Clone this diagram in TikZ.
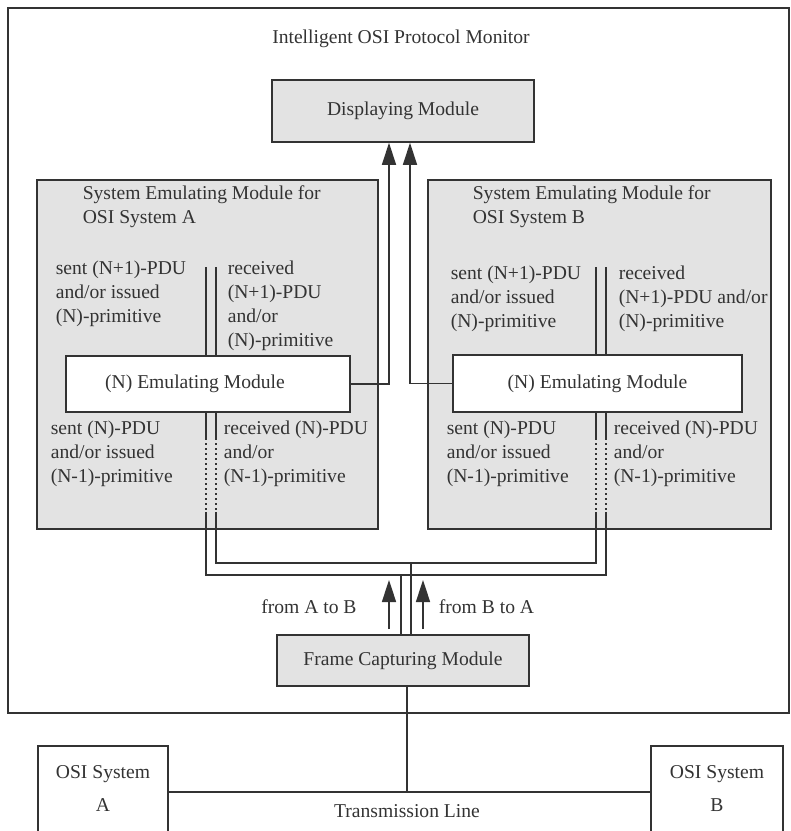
\documentclass[tikz,border=0pt]{standalone}
\usepackage{fontspec}
\setmainfont{Liberation Serif}
\usetikzlibrary{positioning, arrows.meta}

\begin{document}
\begin{tikzpicture}[
        x=0.5pt, y=-0.5pt,
        >={Triangle[length=11pt, width=7pt]},
        line width=0.8pt,
        color=black!80,
        font=\fontsize{9.8}{12}\selectfont,
        module/.style={draw, fill=#1, inner sep=0pt, align=center},
        module/.default=black!11,
        note/.style={anchor=north west, inner sep=0pt, align=left},
        flow/.style={->},
        tap/.style={dash pattern=on 1pt off 1.5pt, line width=1pt}
    ]
        \useasboundingbox (0,0) rectangle (791,831);
        \clip (0,0) rectangle (791,831);

        % monitor and its modules
        \node[module=white, minimum width=390.5pt, minimum height=352.5pt] (monitor) at (398.5,360.5) {};
        \node (title) at (401,39) {Intelligent OSI Protocol Monitor};
        \node[module, minimum width=131pt, minimum height=31pt] (display) at (403,111) {Displaying Module};
        \node[module, minimum width=170.5pt, minimum height=174.5pt] (semA) at (207.5,354.5) {};
        \node[module, minimum width=171.5pt, minimum height=174.5pt] (semB) at (599.5,354.5) {};
        \node[module, minimum width=126pt, minimum height=25.5pt] (fcm) at (403,660.5) {Frame Capturing Module};

        \node[note] (titleA) at (82,184.6) {System Emulating Module for\\OSI System A};
        \node[note] (titleB) at (472,184.6) {System Emulating Module for\\OSI System B};
        \node[note] (sentA1) at (55,260) {sent (N+1)-PDU\\and/or issued\\(N)-primitive};
        \node[note] (recvA1) at (227,260) {received\\(N+1)-PDU\\and/or\\(N)-primitive};
        \node[note] (sentB1) at (450,265) {sent (N+1)-PDU\\and/or issued\\(N)-primitive};
        \node[note] (recvB1) at (618,265) {received\\(N+1)-PDU and/or\\(N)-primitive};
        \node[note] (sentA0) at (50,420) {sent (N)-PDU\\and/or issued\\(N-1)-primitive};
        \node[note] (recvA0) at (223,420) {received (N)-PDU\\and/or\\(N-1)-primitive};
        \node[note] (sentB0) at (446,420) {sent (N)-PDU\\and/or issued\\(N-1)-primitive};
        \node[note] (recvB0) at (613,420) {received (N)-PDU\\and/or\\(N-1)-primitive};

        % service access lines
        \foreach \n/\x in {Al/206, Ar/216, Bl/596, Br/606} {
            \coordinate (up\n) at (\x,267);
            \coordinate (dot\n) at (\x,438);
            \coordinate (bot\n) at (\x,512);
        }
        \coordinate (loopOut) at (401,575);
        \coordinate (loopIn) at (411,563);

        \node[module=white, minimum width=142pt, minimum height=28pt] (nemA) at (208,384) {\hspace*{-13pt}(N) Emulating Module};
        \node[module=white, minimum width=144.5pt, minimum height=28.5pt] (nemB) at (597.5,383.5) {(N) Emulating Module};

        \foreach \n/\m in {Al/A, Ar/A, Bl/B, Br/B} {
            \draw (up\n) -- (up\n |- nem\m.north);
            \draw (nem\m.south -| dot\n) -- (dot\n);
            \draw[tap] (dot\n) -- (bot\n);
        }
        \draw (botAl) |- (loopOut) -| (botBr);
        \draw (botAr) |- (loopIn) -| (botBl);
        \draw (loopOut) -- (loopOut |- fcm.north);
        \draw (loopIn) -- (loopIn |- fcm.north);

        \draw[flow] (nemA.east) -| ([xshift=-7pt]display.south);
        \draw[flow] (nemB.west) -| ([xshift=3.5pt]display.south);

        % captured frames
        \coordinate (abTip) at (389,580);
        \coordinate (baTip) at (423,580);
        \draw[flow, shorten <=2.5pt] (abTip |- fcm.north) -- node[left=12.5pt] (abText) {from A to B} (abTip);
        \draw[flow, shorten <=2.5pt] (baTip |- fcm.north) -- node[right=4.2pt] (baText) {from B to A} (baTip);

        % transmission line
        \node[module=white, minimum width=65pt, minimum height=62pt,
            label={[anchor=north, yshift=-6.5pt, align=center]north:OSI System\\[4.5pt]A}] (osiA) at (103,808) {};
        \node[module=white, minimum width=66pt, minimum height=62pt,
            label={[anchor=north, yshift=-6.5pt, align=center]north:OSI System\\[4.5pt]B}] (osiB) at (717,808) {};
        \coordinate (tap) at (407,792);
        \draw (tap |- fcm.south) -- (tap);
        \draw (osiA.east |- tap) -- (osiB.west |- tap);
        \node (tline) at (407,811) {Transmission Line};
\end{tikzpicture}
\end{document}
